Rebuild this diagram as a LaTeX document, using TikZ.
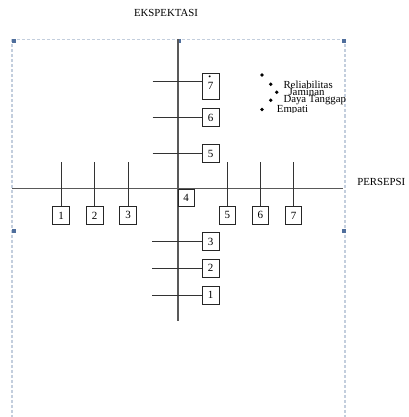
\documentclass[tikz,border=0pt]{standalone}
\usepackage{fontspec}
\setmainfont{Liberation Serif}
\begin{document}
\begin{tikzpicture}[x=1pt,y=-1pt,
  axis/.style={draw=black!65,line width=1.1pt},
  tick/.style={draw=black!80,line width=0.8pt},
  numbox/.style={draw=black!85,line width=0.8pt,fill=white,minimum width=16.8pt,minimum height=18pt,inner sep=0pt,font=\fontsize{11}{12}\selectfont},
  lbl/.style={font=\fontsize{10.8}{12}\selectfont,inner sep=0pt},
  bul/.style={circle,fill=black,inner sep=0pt,minimum size=3.8pt},
  handle/.style={fill=handleblue,draw=none,minimum size=4.2pt,inner sep=0pt},
  frame/.style={draw=framegray,line width=1.1pt,dash pattern=on 3pt off 2pt}]
\definecolor{framegray}{HTML}{C3CEDD}
\definecolor{handleblue}{HTML}{4F6E9C}
\useasboundingbox (0,0) rectangle (408,417);
% selection frame
\draw[frame] (12,39.5) -- (345,39.5);
\draw[frame] (12,39.5) -- (12,420);
\draw[frame] (345,39.5) -- (345,420);
\node[handle] (h1) at (14,41) {};
\node[handle] (h2) at (179.3,41) {};
\node[handle] (h3) at (344,41) {};
\node[handle] (h4) at (14,231) {};
\node[handle] (h5) at (344,231) {};
% titles
\node[lbl] (ek) at (166,13) {EKSPEKTASI};
\node[lbl] (pe) at (381.3,181.7) {PERSEPSI};
% axes
\coordinate (vt) at (178,39.5);
\coordinate (vb) at (178,321);
\coordinate (hl) at (12,188.3);
\coordinate (hr) at (343,188.3);
\draw[axis] (vt) -- (vb);
\draw[axis] (hl) -- (hr);
% vertical boxes (upper)
\node[numbox,minimum height=26pt] (u7) at (210.7,86.3) {\raisebox{-1.5pt}{7}};
\node[font=\fontsize{8}{8}\selectfont,inner sep=0pt] (u7dot) at (209.8,77.8) {•};
\node[numbox] (u6) at (210.7,117.5) {6};
\node[numbox] (u5) at (210.7,153.6) {5};
\coordinate (t7) at (152.7,81.7);
\coordinate (t6) at (152.7,117.3);
\coordinate (t5) at (152.7,153.3);
\draw[tick] (t7) -- (t7 -| u7.west);
\draw[tick] (t6) -- (t6 -| u6.west);
\draw[tick] (t5) -- (t5 -| u5.west);
% vertical boxes (lower)
\node[numbox] (d3) at (210.5,241.7) {3};
\node[numbox] (d2) at (210.5,268.3) {2};
\node[numbox] (d1) at (210.5,295) {1};
\coordinate (s3) at (152.3,241.2);
\coordinate (s2) at (152.3,268.3);
\coordinate (s1) at (152.3,295);
\draw[tick] (s3) -- (s3 -| d3.west);
\draw[tick] (s2) -- (s2 -| d2.west);
\draw[tick] (s1) -- (s1 -| d1.west);
% centre box
\node[numbox,minimum width=16.3pt,minimum height=17.7pt] (c4) at (186.2,197.8) {4};
% horizontal boxes
\foreach \n/\x in {1/61,2/94.7,3/128,5/227.4,6/260.4,7/293.5}{
  \node[numbox,minimum width=16.5pt,minimum height=17.4pt] (p\n) at (\x,215.4) {\n};
  \coordinate (q\n) at (\x,162.3);
  \draw[tick] (q\n) -- (p\n.north);
}
% legend
\node[bul] (b0) at (262,75) {};
\node[bul] (b1) at (270.7,84.3) {};
\node[bul] (b2) at (276.7,92.3) {};
\node[bul] (b3) at (270.7,100.2) {};
\node[bul] (b4) at (262,109.5) {};
\node[lbl,anchor=base west] (l1) at (283.3,88.5) {Reliabilitas};
\node[lbl,anchor=base west] (l2) at (288.3,95.8) {Jaminan};
\node[lbl,anchor=base west] (l3) at (283.3,102.6) {Daya Tanggap};
\begin{scope}
\clip (270,100) rectangle (320,112.3);
\node[lbl,anchor=base west] (l4) at (276.7,112.6) {Empati};
\end{scope}
\end{tikzpicture}
\end{document}
